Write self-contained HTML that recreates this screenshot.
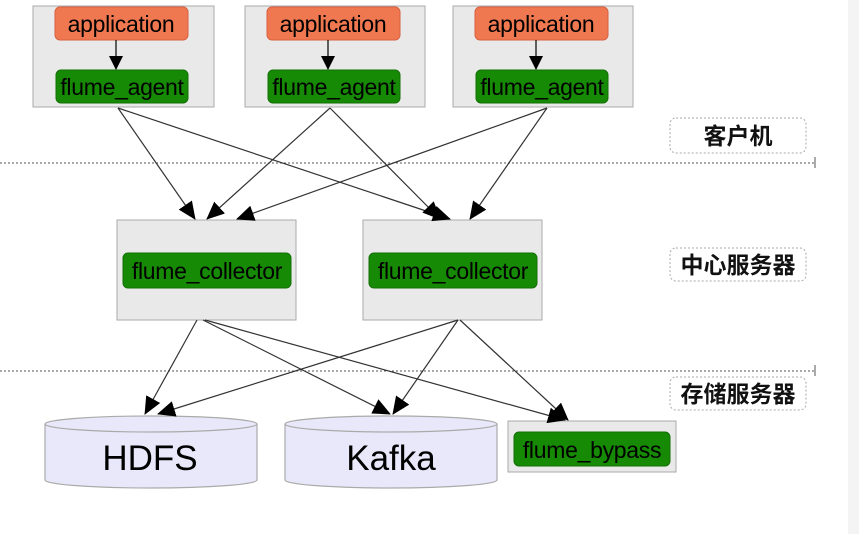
<!DOCTYPE html>
<html><head><meta charset="utf-8"><style>
html,body{margin:0;padding:0;background:#fff;}
svg{display:block;}
text{font-family:"Liberation Sans","Noto Sans CJK SC",sans-serif;}
</style></head><body>
<svg width="859" height="534" viewBox="0 0 859 534" xmlns="http://www.w3.org/2000/svg">
<defs>
<marker id="a" markerWidth="14" markerHeight="14" refX="13" refY="7" orient="auto" markerUnits="userSpaceOnUse">
<path d="M0,0 L14,7 L0,14 z" fill="#000"/></marker>
<marker id="b" markerWidth="18" markerHeight="16" refX="17" refY="8" orient="auto" markerUnits="userSpaceOnUse">
<path d="M0,0 L18,8 L0,16 z" fill="#000"/></marker>
</defs>
<rect x="848" y="0" width="11" height="534" fill="#f4f4f4"/>
<line x1="0" y1="163" x2="815" y2="163" stroke="#555" stroke-dasharray="2,2"/>
<line x1="815" y1="157" x2="815" y2="168" stroke="#555"/>
<line x1="0" y1="371" x2="815" y2="371" stroke="#555" stroke-dasharray="2,2"/>
<line x1="815" y1="365" x2="815" y2="376" stroke="#555"/>
<g fill="#fff" stroke="#aaa" stroke-dasharray="2,2">
<rect x="670" y="118" width="136" height="35" rx="6"/>
<rect x="670" y="248" width="136" height="33" rx="6"/>
<rect x="670" y="377" width="136" height="33" rx="6"/>
</g>
<g font-size="23" font-weight="bold" text-anchor="middle" fill="#111">
<text x="738" y="144">客户机</text>
<text x="738" y="273">中心服务器</text>
<text x="738" y="402">存储服务器</text>
</g>
<g fill="#e9e9e9" stroke="#aaa">
<rect x="33" y="6" width="181" height="101"/>
<rect x="245" y="6" width="180" height="101"/>
<rect x="453" y="6" width="180" height="101"/>
<rect x="117" y="220" width="179" height="100"/>
<rect x="363" y="220" width="179" height="100"/>
<rect x="508" y="421" width="168" height="51"/>
</g>
<g fill="#f07850" stroke="#d86040">
<rect x="55" y="7" width="133" height="33" rx="5"/>
<rect x="267" y="7" width="133" height="33" rx="5"/>
<rect x="475" y="7" width="133" height="33" rx="5"/>
</g>
<g fill="#178a05" stroke="#127004">
<rect x="56" y="70" width="132" height="33" rx="5"/>
<rect x="268" y="70" width="132" height="33" rx="5"/>
<rect x="476" y="70" width="132" height="33" rx="5"/>
<rect x="123" y="253" width="168" height="35" rx="5"/>
<rect x="369" y="253" width="168" height="35" rx="5"/>
<rect x="514" y="432" width="156" height="34" rx="5"/>
</g>
<g font-size="23" text-anchor="middle" fill="#000" letter-spacing="-0.3">
<text x="121" y="32">application</text>
<text x="333" y="32">application</text>
<text x="541" y="32">application</text>
<text x="122" y="95">flume_agent</text>
<text x="334" y="95">flume_agent</text>
<text x="542" y="95">flume_agent</text>
<text x="207" y="279">flume_collector</text>
<text x="453" y="279">flume_collector</text>
<text x="592" y="458">flume_bypass</text>
</g>
<g stroke="#000" stroke-width="1.2" marker-end="url(#a)">
<line x1="116" y1="40" x2="116" y2="69"/>
<line x1="328" y1="40" x2="328" y2="69"/>
<line x1="536" y1="40" x2="536" y2="69"/>
</g>
<g fill="#e8e8fa" stroke="#aaa" stroke-width="1.2">
<path d="M45,424 L45,480 A106,8 0 0 0 257,480 L257,424"/>
<ellipse cx="151" cy="424" rx="106" ry="8"/>
<path d="M285,424 L285,480 A106,8 0 0 0 497,480 L497,424"/>
<ellipse cx="391" cy="424" rx="106" ry="8"/>
</g>
<g font-size="35" text-anchor="middle" fill="#000">
<text x="150" y="470">HDFS</text>
<text x="391" y="470">Kafka</text>
</g>
<g stroke="#333" stroke-width="1.2" marker-end="url(#b)" fill="none">
<line x1="118" y1="108" x2="195" y2="219"/>
<line x1="118" y1="108" x2="450" y2="219"/>
<line x1="330" y1="108" x2="207" y2="219"/>
<line x1="330" y1="108" x2="440" y2="219"/>
<line x1="547" y1="108" x2="237" y2="219"/>
<line x1="547" y1="108" x2="470" y2="219"/>
<line x1="197" y1="320" x2="145" y2="414"/>
<line x1="203" y1="320" x2="390" y2="414"/>
<line x1="205" y1="320" x2="565" y2="420"/>
<line x1="458" y1="320" x2="158" y2="414"/>
<line x1="458" y1="320" x2="393" y2="414"/>
<line x1="460" y1="320" x2="568" y2="420"/>
</g>
</svg>
</body></html>
